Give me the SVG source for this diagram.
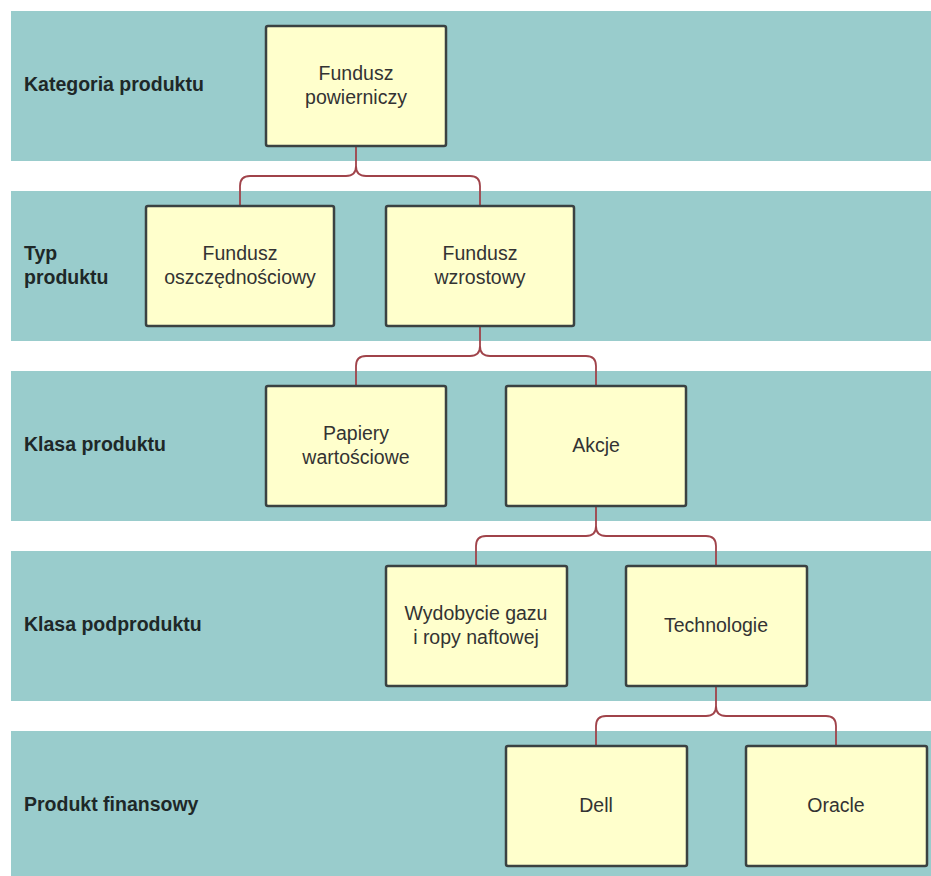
<svg xmlns="http://www.w3.org/2000/svg" width="931" height="876" viewBox="0 0 931 876">
<style>
.band{fill:#99cccc}
.node{fill:#ffffcc;stroke:#3b4242;stroke-width:2.5}
.lbl{font-family:"Liberation Sans",Arial,sans-serif;font-size:19.5px;font-weight:bold;fill:#1e2828}
.txt{font-family:"Liberation Sans",Arial,sans-serif;font-size:19.5px;fill:#333;text-anchor:middle}
.con{fill:none;stroke:#a0434a;stroke-width:1.8}
</style>
<rect width="931" height="876" fill="#ffffff"/>
<g id="bands">
<rect class="band" x="11" y="11" width="920" height="150"/>
<rect class="band" x="11" y="191" width="920" height="150"/>
<rect class="band" x="11" y="371" width="920" height="150"/>
<rect class="band" x="11" y="551" width="920" height="150"/>
<rect class="band" x="11" y="731" width="920" height="145"/>
<text class="lbl" x="24" y="91">Kategoria produktu</text>
<text class="lbl" x="24" y="260">Typ</text>
<text class="lbl" x="24" y="284">produktu</text>
<text class="lbl" x="24" y="451">Klasa produktu</text>
<text class="lbl" x="24" y="631">Klasa podproduktu</text>
<text class="lbl" x="24" y="811">Produkt finansowy</text>
</g>
<g id="connectors">
<path class="con" d="M356,146 V166 Q356,176 346,176 H250 Q240,176 240,186 V206 M356,166 Q356,176 366,176 H470 Q480,176 480,186 V206"/>
<path class="con" d="M480,326 V346 Q480,356 470,356 H366 Q356,356 356,366 V386 M480,346 Q480,356 490,356 H586 Q596,356 596,366 V386"/>
<path class="con" d="M596,506 V526 Q596,536 586,536 H486 Q476,536 476,546 V566 M596,526 Q596,536 606,536 H706 Q716,536 716,546 V566"/>
<path class="con" d="M716,686 V706 Q716,716 706,716 H606 Q596,716 596,726 V746 M716,706 Q716,716 726,716 H826 Q836,716 836,726 V746"/>
</g>
<g id="n1"><rect class="node" x="266" y="26" width="180" height="120" rx="2"/><text class="txt" x="356" y="80">Fundusz</text><text class="txt" x="356" y="104">powierniczy</text></g>
<g id="n2"><rect class="node" x="146" y="206" width="188" height="120" rx="2"/><text class="txt" x="240" y="260">Fundusz</text><text class="txt" x="240" y="284">oszczędnościowy</text></g>
<g id="n3"><rect class="node" x="386" y="206" width="188" height="120" rx="2"/><text class="txt" x="480" y="260">Fundusz</text><text class="txt" x="480" y="284">wzrostowy</text></g>
<g id="n4"><rect class="node" x="266" y="386" width="180" height="120" rx="2"/><text class="txt" x="356" y="440">Papiery</text><text class="txt" x="356" y="464">wartościowe</text></g>
<g id="n5"><rect class="node" x="506" y="386" width="180" height="120" rx="2"/><text class="txt" x="596" y="452">Akcje</text></g>
<g id="n6"><rect class="node" x="386" y="566" width="181" height="120" rx="2"/><text class="txt" x="476" y="620">Wydobycie gazu</text><text class="txt" x="476" y="644">i ropy naftowej</text></g>
<g id="n7"><rect class="node" x="626" y="566" width="181" height="120" rx="2"/><text class="txt" x="716" y="632">Technologie</text></g>
<g id="n8"><rect class="node" x="506" y="746" width="181" height="120" rx="2"/><text class="txt" x="596" y="812">Dell</text></g>
<g id="n9"><rect class="node" x="746" y="746" width="181" height="120" rx="2"/><text class="txt" x="836" y="812">Oracle</text></g>
</svg>
